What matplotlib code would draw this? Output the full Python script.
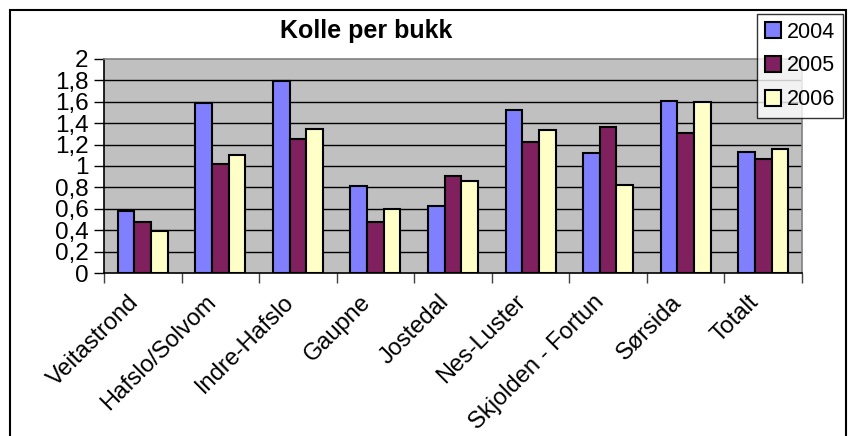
import matplotlib.pyplot as plt
import numpy as np
from matplotlib.patches import Rectangle
from matplotlib.ticker import FuncFormatter, MultipleLocator

plt.rcParams['font.family'] = ['Liberation Sans', 'DejaVu Sans']

omrade = ['Veitastrond', 'Hafslo/Solvom', 'Indre-Hafslo', 'Gaupne', 'Jostedal',
          'Nes-Luster', 'Skjolden - Fortun', 'Sørsida', 'Totalt']
aar = ['2004', '2005', '2006']
v2004 = [0.58, 1.59, 1.79, 0.81, 0.63, 1.52, 1.12, 1.61, 1.13]
v2005 = [0.48, 1.02, 1.25, 0.48, 0.91, 1.22, 1.36, 1.31, 1.07]
v2006 = [0.39, 1.10, 1.345, 0.60, 0.86, 1.34, 0.82, 1.595, 1.16]
farger = ['#8080FF', '#80205F', '#FFFFC8']

fig = plt.figure(figsize=(8.52, 4.36), dpi=100)
ax = fig.add_axes([104/852, 1-273/436, (802-104)/852, (273-59)/436])
ax.set_facecolor('#C0C0C0')

x = np.arange(len(omrade))
b = 0.215
for i, (verdier, navn) in enumerate(zip([v2004, v2005, v2006], aar)):
    ax.bar(x + (i-1)*b, verdier, b, color=farger[i], edgecolor='black',
           linewidth=1.5, label=navn, zorder=3)

ax.set_xlim(-0.5, len(omrade)-0.5)
ax.set_ylim(0, 2)
ax.yaxis.set_major_locator(MultipleLocator(0.2))
ax.yaxis.set_major_formatter(FuncFormatter(lambda v, p: ('%g' % round(v, 1)).replace('.', ',')))
for g in np.arange(0.2, 1.9, 0.2):
    ax.axhline(g, color='black', linewidth=1, zorder=1)

ax.set_xticks(x)
ax.set_xticklabels(omrade, rotation=45, ha='right', va='top', fontsize=17)
ax.set_xticks(np.arange(-0.5, len(omrade)), minor=True)
ax.tick_params(axis='x', which='major', length=0, pad=13)
ax.tick_params(axis='x', which='minor', length=7, width=1, color='#404040', direction='out')
ax.tick_params(axis='y', length=7, width=1, direction='out', labelsize=17.5, pad=4)

ax.spines['left'].set_color('black')
ax.spines['bottom'].set_color('black')
ax.spines['top'].set_color('#808080')
ax.spines['right'].set_color('#808080')
for s in ax.spines.values():
    s.set_linewidth(1.2)

fig.text(366/852, 1-31/436, 'Kolle per bukk', ha='center', va='center',
         fontsize=18, fontweight='bold')

leg = fig.legend(loc='upper right', bbox_to_anchor=(843/852, 1-14/436), fontsize=15.5,
                 frameon=True, fancybox=False, edgecolor='black', borderpad=0.35,
                 handlelength=0.75, handleheight=0.75, handletextpad=0.3, labelspacing=0.6,
                 borderaxespad=0)
leg.get_frame().set_linewidth(1)

fig.patches.append(Rectangle((10/852, -0.1), (846-10)/852, 1.1-10/436, fill=False,
                             edgecolor='black', linewidth=1.5, transform=fig.transFigure,
                             figure=fig))

fig.savefig('out.png', dpi=100)
